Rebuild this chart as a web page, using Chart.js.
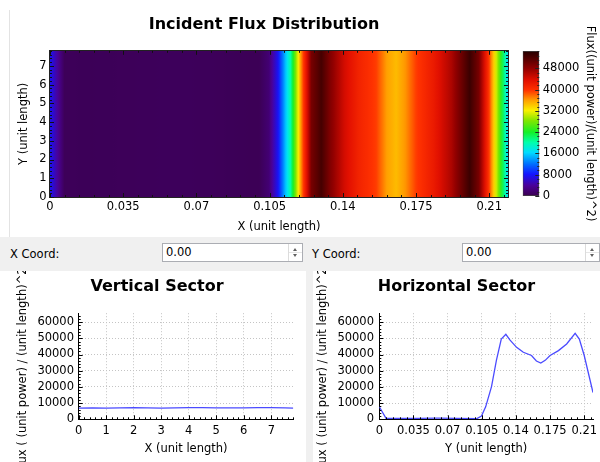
<!DOCTYPE html>
<html>
<head>
<meta charset="utf-8">
<script src="https://cdn.jsdelivr.net/npm/chart.js@4"></script>
<style>
  body { margin: 0; width: 600px; height: 462px; position: relative; overflow: hidden; background: #fff;
         font-family: 'DejaVu Sans', sans-serif; font-size: 11.5px; color: #000; }
  canvas, .abs { position: absolute; }
  .lbl { position: absolute; top: 246px; line-height: 16px; }
  .spin { position: absolute; top: 243px; height: 19px; box-sizing: border-box; background: #fff;
          border: 1px solid #abadb3; line-height: 17px; padding-left: 3px; }
  .arr { position: absolute; right: 0; top: 0; width: 13px; height: 17px; border-left: 1px solid #dcdcdc; }
  .arr .up, .arr .dn { position: absolute; left: 4px; width: 0; height: 0;
          border-left: 2.5px solid transparent; border-right: 2.5px solid transparent; }
  .arr .up { top: 4px; border-bottom: 3px solid #606060; }
  .arr .dn { top: 10px; border-top: 3px solid #606060; }
  .arr .mid { position: absolute; left: 0; right: 0; top: 8px; border-top: 1px solid #e6e6e6; }
</style>
</head>
<body>
<div class="abs" style="left:9px;top:10px;height:227px;border-left:1px solid #e3e3e3"></div>
<canvas id="heat" width="508" height="237" style="left:10px;top:0"></canvas>
<canvas id="cbar" width="82" height="237" style="left:518px;top:0"></canvas>

<div class="abs" style="left:0;top:237px;width:600px;height:34px;background:#f0f0f0"></div>
<div class="lbl" style="left:10px">X Coord:</div>
<div class="spin" style="left:162px;width:141px">0.00<div class="arr"><div class="up"></div><div class="mid"></div><div class="dn"></div></div></div>
<div class="lbl" style="left:312px">Y Coord:</div>
<div class="spin" style="left:462px;width:138px">0.00<div class="arr"><div class="up"></div><div class="mid"></div><div class="dn"></div></div></div>

<div class="abs" style="left:306px;top:271px;width:7px;height:191px;background:#f0f0f0"></div>
<canvas id="vert" width="298" height="191" style="left:8px;top:271px"></canvas>
<canvas id="horz" width="287" height="191" style="left:313px;top:271px"></canvas>

<script>
// flux profile along X (same for every Y row of the map)
const hX    = [0, 0.0069, 0.02, 0.04, 0.06, 0.08, 0.1, 0.1047, 0.109, 0.115, 0.120, 0.125, 0.1297, 0.134,
               0.1407, 0.1476, 0.156, 0.161, 0.1655, 0.170, 0.175, 0.1836, 0.192, 0.2007, 0.205, 0.210, 0.219];
const hFlux = [7700, 600, 500, 600, 700, 600, 400, 2000, 7700, 20200, 36400, 49500, 52500, 48900,
               44400, 41400, 39400, 36000, 34700, 36400, 39400, 42400, 46500, 53100, 49500, 39400, 16500];

// flux along Y at X = 0
const vY    = [0, 0.5, 1, 1.5, 2, 2.5, 3, 3.5, 4, 4.5, 5, 5.5, 6, 6.5, 7, 7.5, 7.8];
const vFlux = [6900, 7000, 6900, 7000, 7200, 7100, 6900, 7000, 7200, 7200, 7100, 7000, 7100, 7200, 7200, 7000, 6900];

// axis ranges and tick labels
const heatXMax = 0.219;
const heatYMax = 7.8;
const cbMax = 54500;
const sectorYMax = 65500;
const lenTicksX = [0, 0.035, 0.07, 0.105, 0.14, 0.175, 0.21];
const lenTicksY = [0, 1, 2, 3, 4, 5, 6, 7];
const cbTicks = [0, 8000, 16000, 24000, 32000, 40000, 48000];
const fluxTicks = [0, 10000, 20000, 30000, 40000, 50000, 60000];

const titleMap = 'Incident Flux Distribution';
const titleV = 'Vertical Sector';
const titleH = 'Horizontal Sector';
const fluxLabel = 'Flux((unit power)/(unit length)^2)';
const sectorYLabel = 'Flux ( (unit power) / (unit length)^2 )';

// colour map (fraction of cbMax -> rgb)
const cmapStops = [
  [0.00, [58, 0, 78]], [0.07, [75, 0, 150]], [0.15, [20, 20, 255]], [0.22, [0, 110, 255]],
  [0.30, [0, 220, 255]], [0.37, [0, 255, 170]], [0.44, [20, 240, 40]], [0.52, [130, 230, 0]],
  [0.59, [250, 240, 0]], [0.66, [255, 160, 0]], [0.73, [255, 50, 0]], [0.80, [225, 15, 0]],
  [0.88, [145, 0, 0]], [1.00, [35, 0, 0]]
];

function cmap(v) {
  const t = Math.max(0, Math.min(1, v / cbMax));
  for (let i = 0; i < cmapStops.length - 1; i++) {
    const [t0, c0] = cmapStops[i], [t1, c1] = cmapStops[i + 1];
    if (t <= t1) {
      const f = (t - t0) / (t1 - t0);
      return 'rgb(' + c0.map((c, k) => Math.round(c + (c1[k] - c) * f)).join(',') + ')';
    }
  }
  return 'rgb(35,0,0)';
}

Chart.defaults.font.family = "'DejaVu Sans', sans-serif";
Chart.defaults.font.size = 11.5;
Chart.defaults.color = '#000';

const fmt3 = v => String(+v.toFixed(3));
const fmtInt = v => String(v);
const useTicks = list => s => { s.ticks = list.map(v => ({ value: v })); };

// small tick marks drawn inside the plot area
function inTicks(axes, color) {
  return {
    id: 'inTicks',
    afterDatasetsDraw(chart) {
      const ctx = chart.ctx, a = chart.chartArea;
      ctx.save();
      ctx.strokeStyle = color;
      ctx.lineWidth = 1;
      axes.forEach(ax => {
        const s = chart.scales[ax.id];
        const n = Math.floor((s.max - s.min) / ax.minor + 1e-6);
        for (let i = 0; i <= n; i++) {
          const v = s.min + i * ax.minor;
          const r = v / ax.major;
          const len = Math.abs(r - Math.round(r)) < 1e-6 ? 4 : 2;
          const p = Math.round(s.getPixelForValue(v)) + 0.5;
          ax.sides.forEach(side => {
            ctx.beginPath();
            if (side === 'bottom') { ctx.moveTo(p, a.bottom); ctx.lineTo(p, a.bottom - len); }
            if (side === 'top') { ctx.moveTo(p, a.top); ctx.lineTo(p, a.top + len); }
            if (side === 'left') { ctx.moveTo(a.left, p); ctx.lineTo(a.left + len, p); }
            if (side === 'right') { ctx.moveTo(a.right, p); ctx.lineTo(a.right - len, p); }
            ctx.stroke();
          });
        }
      });
      ctx.restore();
    }
  };
}

const frame = {
  id: 'frame',
  afterDatasetsDraw(chart) {
    const ctx = chart.ctx, a = chart.chartArea;
    ctx.save();
    ctx.strokeStyle = '#222';
    ctx.lineWidth = 1;
    ctx.strokeRect(Math.round(a.left) - 0.5, Math.round(a.top) - 0.5, Math.round(a.right - a.left) + 1, Math.round(a.bottom - a.top) + 1);
    ctx.restore();
  }
};

function heatGradient(chart) {
  if (!chart.chartArea) return 'rgba(0,0,0,0)';
  const sx = chart.scales.x;
  const x0 = sx.getPixelForValue(hX[0]), x1 = sx.getPixelForValue(hX[hX.length - 1]);
  const g = chart.ctx.createLinearGradient(x0, 0, x1, 0);
  for (let i = 0; i < hX.length - 1; i++) {
    for (let k = 0; k < 8; k++) {
      const f = k / 8;
      const px = sx.getPixelForValue(hX[i] + (hX[i + 1] - hX[i]) * f);
      g.addColorStop((px - x0) / (x1 - x0), cmap(hFlux[i] + (hFlux[i + 1] - hFlux[i]) * f));
    }
  }
  g.addColorStop(1, cmap(hFlux[hFlux.length - 1]));
  return g;
}

function cbGradient(chart) {
  const a = chart.chartArea;
  if (!a) return 'rgba(0,0,0,0)';
  const g = chart.ctx.createLinearGradient(0, a.bottom, 0, a.top);
  cmapStops.forEach(([t, c]) => g.addColorStop(t, 'rgb(' + c.join(',') + ')'));
  return g;
}

const noGrid = { display: false, drawTicks: false };

// the flux map
new Chart(document.getElementById('heat'), {
  type: 'line',
  data: {
    datasets: [{
      data: hX.map(x => ({ x: x, y: heatYMax })),
      fill: 'start',
      borderWidth: 0,
      pointRadius: 0,
      backgroundColor: c => heatGradient(c.chart)
    }]
  },
  options: {
    responsive: false, animation: false, devicePixelRatio: 1,
    plugins: {
      legend: { display: false }, tooltip: { enabled: false },
      title: { display: true, text: titleMap, color: '#000', font: { size: 16, weight: 'bold' }, padding: { top: 15, bottom: 16.6 } }
    },
    scales: {
      x: {
        type: 'linear', min: 0, max: heatXMax,
        grid: noGrid, border: { display: false },
        afterBuildTicks: useTicks(lenTicksX),
        ticks: { autoSkip: false, maxRotation: 0, padding: 3, callback: fmt3 },
        title: { display: true, text: 'X (unit length)', padding: { top: 0, bottom: 3.4 } },
        afterFit: s => { s.height = 40; s.paddingRight = 10; }
      },
      y: {
        min: 0, max: heatYMax,
        grid: noGrid, border: { display: false },
        afterBuildTicks: useTicks(lenTicksY),
        ticks: { padding: 3.5, callback: fmtInt },
        title: { display: true, text: 'Y (unit length)', padding: { top: 7, bottom: 0 } },
        afterFit: s => { s.width = 40; }
      }
    }
  },
  plugins: [frame, inTicks([
    { id: 'x', major: 0.035, minor: 0.007, sides: ['bottom', 'top'] },
    { id: 'y', major: 1, minor: 0.2, sides: ['left', 'right'] }
  ], '#111')]
});

// colour bar
new Chart(document.getElementById('cbar'), {
  type: 'bar',
  data: {
    labels: [''],
    datasets: [{
      data: [[0, cbMax]],
      backgroundColor: c => cbGradient(c.chart),
      borderColor: '#444', borderWidth: 1, borderSkipped: false,
      barPercentage: 1, categoryPercentage: 1
    }]
  },
  options: {
    responsive: false, animation: false, devicePixelRatio: 1,
    layout: { padding: { left: 4.7, top: 51, bottom: 41, right: 0 } },
    plugins: { legend: { display: false }, tooltip: { enabled: false } },
    scales: {
      x: { display: false },
      y: {
        position: 'right', min: 0, max: cbMax,
        grid: noGrid, border: { display: false },
        afterBuildTicks: useTicks(cbTicks),
        ticks: { padding: 3.5, callback: fmtInt },
        title: { display: true, text: fluxLabel, padding: { top: 3, bottom: 0 } },
        afterFit: s => { s.width = 60.7; }
      }
    }
  },
  plugins: [inTicks([{ id: 'y', major: 8000, minor: 1600, sides: ['right'] }], '#222')]
});

function sector(id, xs, ys, title, xTitle, xMax, xTicks, xMinor, fmtX, lay) {
  return new Chart(document.getElementById(id), {
    type: 'line',
    data: {
      datasets: [{
        data: xs.map((x, i) => ({ x: x, y: ys[i] })),
        borderColor: '#4b4bff', borderWidth: 1.3, pointRadius: 0, tension: 0, fill: false
      }]
    },
    options: {
      responsive: false, animation: false, devicePixelRatio: 1,
      plugins: {
        legend: { display: false }, tooltip: { enabled: false },
        title: { display: true, text: title, color: '#000', font: { size: 16, weight: 'bold' }, padding: { top: 6, bottom: 17 } }
      },
      scales: {
        x: {
          type: 'linear', min: 0, max: xMax,
          grid: { color: '#c4c4c4', drawTicks: false }, border: { color: '#000', dash: [1, 2] },
          afterBuildTicks: useTicks(xTicks),
          ticks: { autoSkip: false, maxRotation: 0, padding: 4.8, callback: fmtX },
          title: { display: true, text: xTitle, padding: { top: 0, bottom: 5.8 } },
          afterFit: s => { s.height = 42.7; s.paddingRight = lay.right; }
        },
        y: {
          min: 0, max: sectorYMax,
          grid: { color: '#c4c4c4', drawTicks: false }, border: { color: '#000', dash: [1, 2] },
          afterBuildTicks: useTicks(fluxTicks),
          ticks: { padding: lay.yPad, callback: fmtInt },
          title: { display: true, text: sectorYLabel, padding: { top: lay.yTitle, bottom: 0 } },
          afterFit: s => { s.width = lay.yWidth; }
        }
      }
    },
    plugins: [inTicks([
      { id: 'x', major: xTicks[1] - xTicks[0], minor: xMinor, sides: ['bottom'] },
      { id: 'y', major: 10000, minor: 2000, sides: ['left'] }
    ], '#000')]
  });
}

sector('vert', vY, vFlux, titleV, 'X (unit length)', 7.8, lenTicksY, 0.2, fmtInt,
       { right: 12.7, yWidth: 70.7, yPad: 4.7, yTitle: 8 });
sector('horz', hX, hFlux, titleH, 'Y (unit length)', heatXMax, lenTicksX, 0.007, fmt3,
       { right: 7, yWidth: 66.3, yPad: 5.3, yTitle: 2.8 });
</script>
</body>
</html>
